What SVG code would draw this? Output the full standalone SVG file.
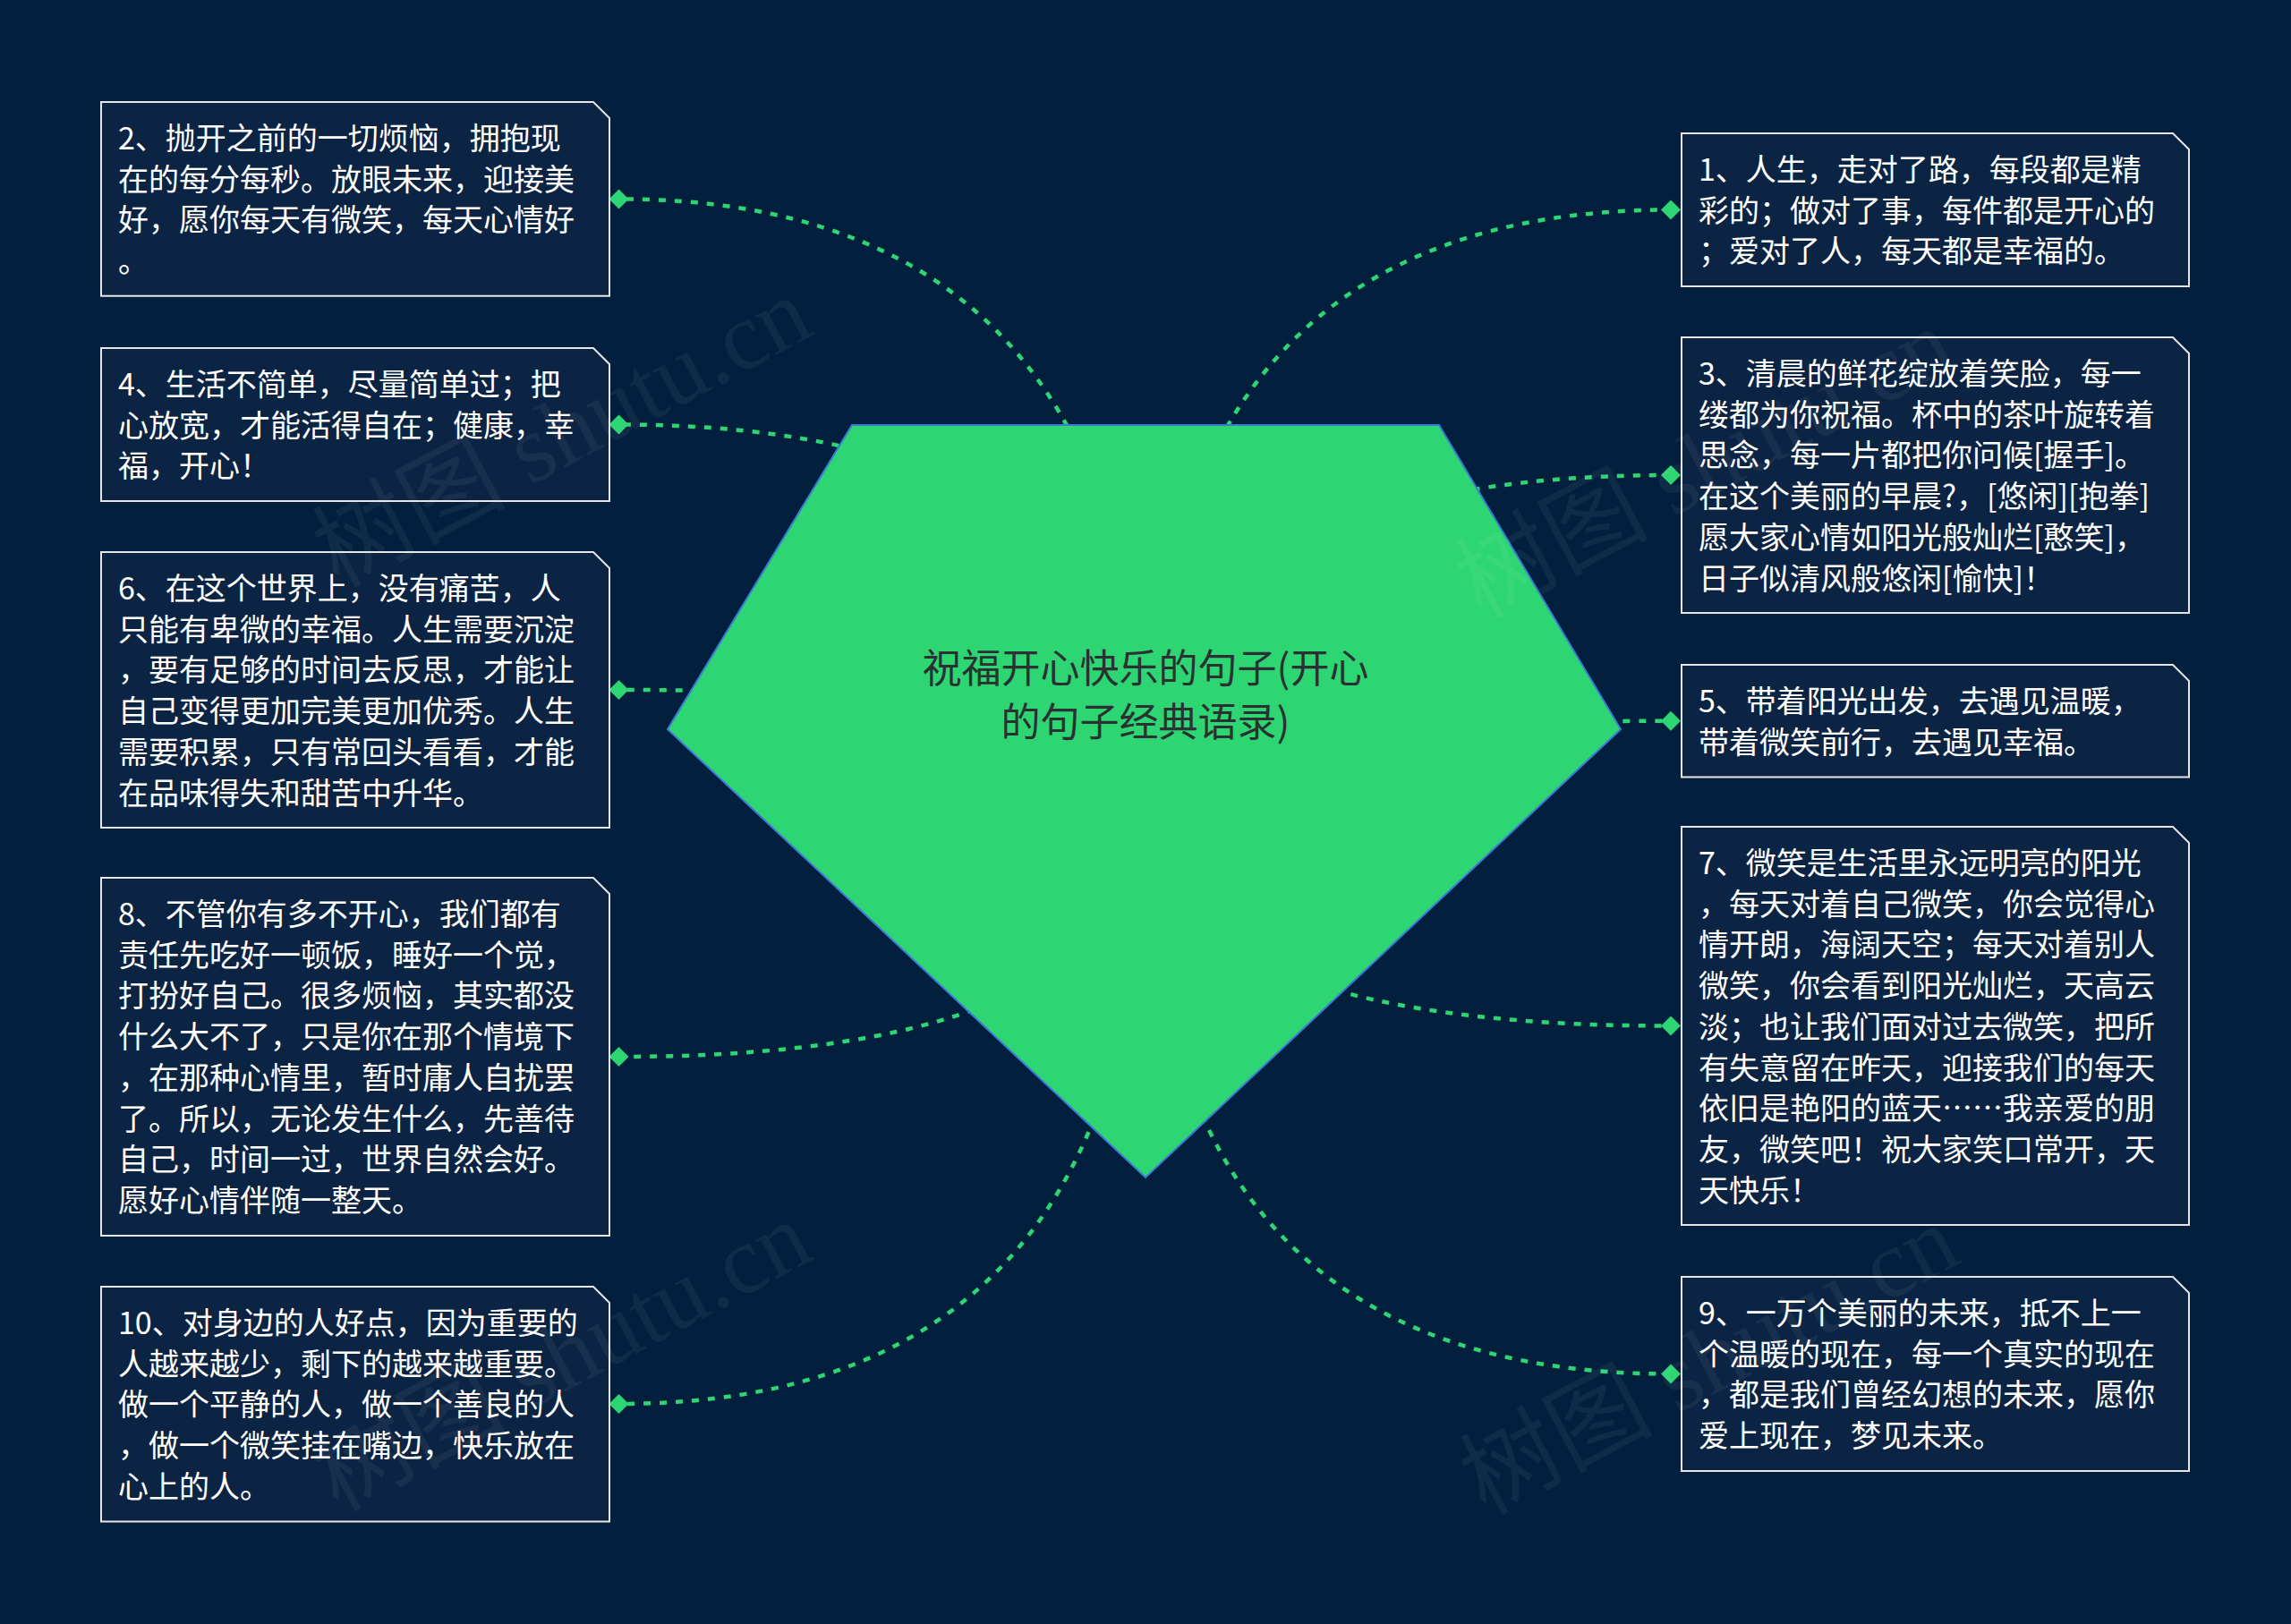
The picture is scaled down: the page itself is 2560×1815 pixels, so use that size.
<svg xmlns="http://www.w3.org/2000/svg" width="2560" height="1815" viewBox="0 0 2560 1815">
<style>
.bg{fill:#02203e}
.box{fill:#0c2444;stroke:#e6e6e6;stroke-width:2}
.t{font-family:"Noto Sans CJK SC","Noto Sans",sans-serif;font-size:34px;fill:#ffffff}
.ct{font-family:"Noto Sans CJK SC","Noto Sans",sans-serif;font-size:44px;fill:#2a3132;text-anchor:middle}
.conn{fill:none;stroke:#2ed573;stroke-width:4.5;stroke-dasharray:8 10;marker-end:url(#dia)}
.wm{font-family:"Liberation Serif","Noto Sans CJK SC",serif;font-size:108px;fill:#ffffff;fill-opacity:0.05}
</style>
<defs>
<marker id="dia" markerUnits="userSpaceOnUse" markerWidth="26" markerHeight="26" refX="13" refY="13" orient="auto" viewBox="0 0 26 26">
<path d="M2 13 L13 2 L24 13 L13 24 Z" fill="#2ed573"/>
</marker>
</defs>
<rect class="bg" x="0" y="0" width="2560" height="1815"/>
<g id="connectors">
<path class="conn" d="M1280 895 Q1280 222.4 691.5 222.4"/>
<path class="conn" d="M1280 895 Q1280 474.5 691.5 474.5"/>
<path class="conn" d="M1280 895 Q1280 771 691.5 771"/>
<path class="conn" d="M1280 895 Q1280 1181 691.5 1181"/>
<path class="conn" d="M1280 895 Q1280 1569 691.5 1569"/>
<path class="conn" d="M1280 895 Q1280 234.5 1867 234.5"/>
<path class="conn" d="M1280 895 Q1280 531 1867 531"/>
<path class="conn" d="M1280 895 Q1280 805.7 1867 805.7"/>
<path class="conn" d="M1280 895 Q1280 1146.5 1867 1146.5"/>
<path class="conn" d="M1280 895 Q1280 1535.5 1867 1535.5"/>
</g>
<g id="center">
<polygon points="952,475 1608,475 1811,815 1280,1316 746,815" fill="#2ed573" stroke="#3c78d8" stroke-width="2"/>
<text class="ct"><tspan x="1280" y="763">祝福开心快乐的句子(开心</tspan><tspan x="1280" y="823">的句子经典语录)</tspan></text>
</g>
<g id="node2">
<path class="box" d="M113 114 H663 L681 132 V330.8 H113 Z"/>
<text class="t"><tspan x="132" y="167">2、抛开之前的一切烦恼，拥抱现</tspan><tspan x="132" y="212.7">在的每分每秒。放眼未来，迎接美</tspan><tspan x="132" y="258.4">好，愿你每天有微笑，每天心情好</tspan><tspan x="132" y="304.1">。</tspan></text>
</g>
<g id="node4">
<path class="box" d="M113 389 H663 L681 407 V560 H113 Z"/>
<text class="t"><tspan x="132" y="442">4、生活不简单，尽量简单过；把</tspan><tspan x="132" y="487.7">心放宽，才能活得自在；健康，幸</tspan><tspan x="132" y="533.4">福，开心！</tspan></text>
</g>
<g id="node6">
<path class="box" d="M113 617 H663 L681 635 V925 H113 Z"/>
<text class="t"><tspan x="132" y="670">6、在这个世界上，没有痛苦，人</tspan><tspan x="132" y="715.7">只能有卑微的幸福。人生需要沉淀</tspan><tspan x="132" y="761.4">，要有足够的时间去反思，才能让</tspan><tspan x="132" y="807.1">自己变得更加完美更加优秀。人生</tspan><tspan x="132" y="852.8">需要积累，只有常回头看看，才能</tspan><tspan x="132" y="898.5">在品味得失和甜苦中升华。</tspan></text>
</g>
<g id="node8">
<path class="box" d="M113 981 H663 L681 999 V1381 H113 Z"/>
<text class="t"><tspan x="132" y="1034">8、不管你有多不开心，我们都有</tspan><tspan x="132" y="1079.7">责任先吃好一顿饭，睡好一个觉，</tspan><tspan x="132" y="1125.4">打扮好自己。很多烦恼，其实都没</tspan><tspan x="132" y="1171.1">什么大不了，只是你在那个情境下</tspan><tspan x="132" y="1216.8">，在那种心情里，暂时庸人自扰罢</tspan><tspan x="132" y="1262.5">了。所以，无论发生什么，先善待</tspan><tspan x="132" y="1308.2">自己，时间一过，世界自然会好。</tspan><tspan x="132" y="1353.9">愿好心情伴随一整天。</tspan></text>
</g>
<g id="node10">
<path class="box" d="M113 1438 H663 L681 1456 V1700.5 H113 Z"/>
<text class="t"><tspan x="132" y="1491">10、对身边的人好点，因为重要的</tspan><tspan x="132" y="1536.7">人越来越少，剩下的越来越重要。</tspan><tspan x="132" y="1582.4">做一个平静的人，做一个善良的人</tspan><tspan x="132" y="1628.1">，做一个微笑挂在嘴边，快乐放在</tspan><tspan x="132" y="1673.8">心上的人。</tspan></text>
</g>
<g id="node1">
<path class="box" d="M1879 149 H2428 L2446 167 V320 H1879 Z"/>
<text class="t"><tspan x="1898" y="202">1、人生，走对了路，每段都是精</tspan><tspan x="1898" y="247.7">彩的；做对了事，每件都是开心的</tspan><tspan x="1898" y="293.4">；爱对了人，每天都是幸福的。</tspan></text>
</g>
<g id="node3">
<path class="box" d="M1879 377 H2428 L2446 395 V685 H1879 Z"/>
<text class="t"><tspan x="1898" y="430">3、清晨的鲜花绽放着笑脸，每一</tspan><tspan x="1898" y="475.7">缕都为你祝福。杯中的茶叶旋转着</tspan><tspan x="1898" y="521.4">思念，每一片都把你问候[握手]。</tspan><tspan x="1898" y="567.1">在这个美丽的早晨?，[悠闲][抱拳]</tspan><tspan x="1898" y="612.8">愿大家心情如阳光般灿烂[憨笑]，</tspan><tspan x="1898" y="658.5">日子似清风般悠闲[愉快]！</tspan></text>
</g>
<g id="node5">
<path class="box" d="M1879 743 H2428 L2446 761 V868.4 H1879 Z"/>
<text class="t"><tspan x="1898" y="796">5、带着阳光出发，去遇见温暖，</tspan><tspan x="1898" y="841.7">带着微笑前行，去遇见幸福。</tspan></text>
</g>
<g id="node7">
<path class="box" d="M1879 924 H2428 L2446 942 V1369 H1879 Z"/>
<text class="t"><tspan x="1898" y="977">7、微笑是生活里永远明亮的阳光</tspan><tspan x="1898" y="1022.7">，每天对着自己微笑，你会觉得心</tspan><tspan x="1898" y="1068.4">情开朗，海阔天空；每天对着别人</tspan><tspan x="1898" y="1114.1">微笑，你会看到阳光灿烂，天高云</tspan><tspan x="1898" y="1159.8">淡；也让我们面对过去微笑，把所</tspan><tspan x="1898" y="1205.5">有失意留在昨天，迎接我们的每天</tspan><tspan x="1898" y="1251.2">依旧是艳阳的蓝天……我亲爱的朋</tspan><tspan x="1898" y="1296.9">友，微笑吧！祝大家笑口常开，天</tspan><tspan x="1898" y="1342.6">天快乐！</tspan></text>
</g>
<g id="node9">
<path class="box" d="M1879 1427 H2428 L2446 1445 V1644 H1879 Z"/>
<text class="t"><tspan x="1898" y="1480">9、一万个美丽的未来，抵不上一</tspan><tspan x="1898" y="1525.7">个温暖的现在，每一个真实的现在</tspan><tspan x="1898" y="1571.4">，都是我们曾经幻想的未来，愿你</tspan><tspan x="1898" y="1617.1">爱上现在，梦见未来。</tspan></text>
</g>
<g id="watermarks">
<text class="wm" transform="translate(645,515) rotate(-28)" text-anchor="middle">树图 shutu.cn</text>
<text class="wm" transform="translate(1922,550) rotate(-28)" text-anchor="middle">树图 shutu.cn</text>
<text class="wm" transform="translate(645,1548) rotate(-28)" text-anchor="middle">树图 shutu.cn</text>
<text class="wm" transform="translate(1927,1552) rotate(-28)" text-anchor="middle">树图 shutu.cn</text>
</g>
</svg>
